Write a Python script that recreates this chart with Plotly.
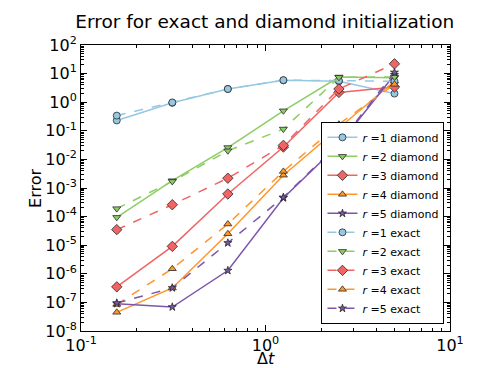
import plotly.graph_objects as go

dt = [0.15625, 0.3125, 0.625, 1.25, 2.5, 5.0]

r1_diamond = [0.23, 0.95, 2.9, 5.8, 5.4, 2.0]
r2_diamond = [9.4e-5, 1.8e-3, 0.026, 0.50, 7.6, 7.2]
r3_diamond = [3.5e-7, 9.1e-6, 6.2e-4, 0.027, 2.2, 3.4]
r4_diamond = [4.5e-8, 3.2e-7, 2.5e-5, 2.8e-3, 0.125, 5.4]
r5_diamond = [9e-8, 6.9e-8, 1.3e-6, 4.5e-4, 0.033, 9.1]

r1_exact = [0.34, 0.98, 2.9, 5.9, 5.6, 5.4]
r2_exact = [1.9e-4, 1.7e-3, 0.020, 0.115, 7.4, 7.6]
r3_exact = [3.5e-5, 2.6e-4, 2.2e-3, 0.031, 2.9, 22]
r4_exact = [8.5e-8, 1.5e-6, 5.5e-5, 3.8e-3, 0.17, 4.2]
r5_exact = [9.5e-8, 3.2e-7, 1.2e-5, 4.7e-4, 0.036, 11]

x_exponents = [-1, 0, 1]
y_exponents = [-8, -7, -6, -5, -4, -3, -2, -1, 0, 1, 2]

colors = ['rgb(150,200,228)', 'rgb(140,205,100)', 'rgb(240,100,100)',
          'rgb(255,150,40)', 'rgb(125,85,170)']
symbols = ['circle', 'triangle-down', 'diamond', 'triangle-up', 'star']
sizes = [7, 7, 8, 7, 6]

diamond_series = [r1_diamond, r2_diamond, r3_diamond, r4_diamond, r5_diamond]
exact_series = [r1_exact, r2_exact, r3_exact, r4_exact, r5_exact]

fig = go.Figure()

for label, series, dash in [('diamond', diamond_series, 'solid'),
                            ('exact', exact_series, 'dash')]:
    for i, vals in enumerate(series):
        fig.add_trace(go.Scatter(
            x=dt, y=vals,
            mode='lines+markers',
            name='<i>r</i> =%d %s' % (i + 1, label),
            line=dict(color=colors[i], width=1.5, dash=dash),
            marker=dict(symbol=symbols[i], size=sizes[i], color=colors[i],
                        line=dict(color='rgb(40,40,40)', width=0.8)),
        ))


def power_labels(exps):
    return [10.0 ** e for e in exps], ['10<sup>%d</sup>' % e for e in exps]


axis_common = dict(
    type='log', automargin=False,
    showline=True, linecolor='black', linewidth=1, mirror='allticks',
    ticks='inside', ticklen=6, tickcolor='black', showgrid=False,
    zeroline=False, tickfont=dict(size=16, color='black'),
    minor=dict(ticks='inside', ticklen=3, tickcolor='black', dtick='D1'),
)

xv, xt = power_labels(x_exponents)
yv, yt = power_labels(y_exponents)

fig.update_layout(
    width=491, height=368,
    margin=dict(l=73, r=49, t=37, b=45),
    paper_bgcolor='white', plot_bgcolor='white',
    font=dict(family='DejaVu Sans', color='black'),
    title=dict(text='Error for exact and diamond initialization',
               x=0.523, xanchor='center', y=0.962, yanchor='middle',
               font=dict(size=18.5)),
    xaxis=dict(axis_common, range=[-1, 1], tickvals=xv, ticktext=xt),
    yaxis=dict(axis_common, range=[-8, 2], tickvals=yv, ticktext=yt),
    legend=dict(x=0.985, y=0.025, xanchor='right', yanchor='bottom',
                bgcolor='white', bordercolor='black', borderwidth=1,
                font=dict(size=11), tracegroupgap=0, itemwidth=30),
    showlegend=True,
    annotations=[
        dict(text='Δ<i>t</i>', xref='paper', yref='paper', x=0.5, y=-0.095,
             xanchor='center', yanchor='middle', showarrow=False,
             font=dict(size=16)),
        dict(text='Error', xref='paper', yref='paper', x=-0.125, y=0.5,
             xanchor='center', yanchor='middle', showarrow=False,
             textangle=-90, font=dict(size=16)),
    ],
)

fig.write_html("out.html")
